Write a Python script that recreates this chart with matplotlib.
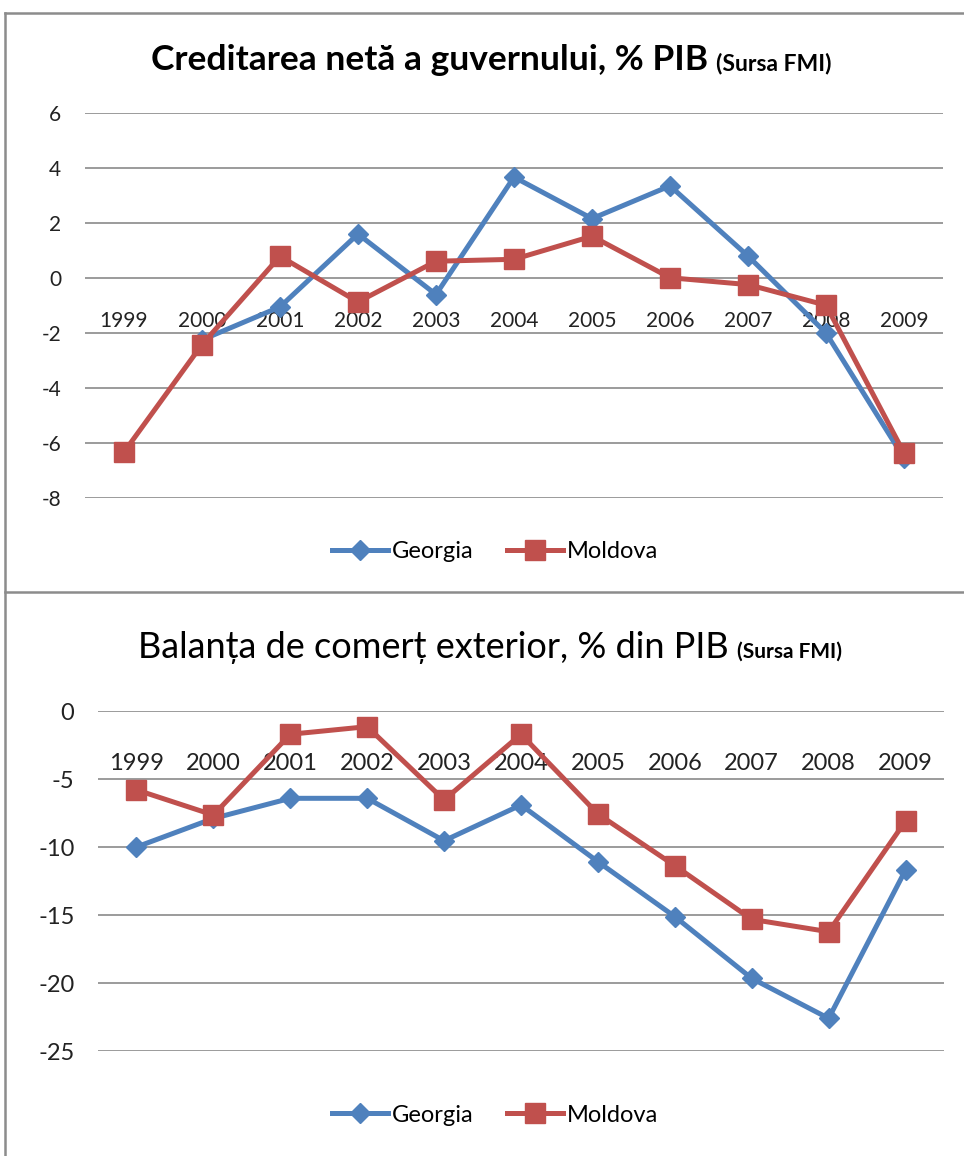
import matplotlib
matplotlib.use("Agg")
import matplotlib.pyplot as plt
from matplotlib.lines import Line2D

plt.rcParams['font.family'] = ['Lato', 'DejaVu Sans']

years = ['1999', '2000', '2001', '2002', '2003', '2004', '2005', '2006', '2007', '2008', '2009']

# Creditarea neta a guvernului, % PIB (Georgia has no 1999 value)
credit_georgia = [None, -2.25, -1.05, 1.6, -0.6, 3.67, 2.16, 3.35, 0.8, -2.0, -6.55]
credit_moldova = [-6.33, -2.42, 0.79, -0.87, 0.61, 0.68, 1.52, 0.01, -0.24, -0.99, -6.36]

# Balanta de comert exterior, % din PIB
trade_georgia = [-10.0, -7.9, -6.42, -6.42, -9.54, -6.91, -11.08, -15.12, -19.66, -22.6, -11.69]
trade_moldova = [-5.8, -7.65, -1.71, -1.15, -6.54, -1.71, -7.57, -11.37, -15.32, -16.23, -8.09]

BLUE = '#4F81BD'
RED = '#C0504D'
GRID = '#8a8a8a'
W, H = 964, 1156

fig = plt.figure(figsize=(W / 100, H / 100), dpi=100)


def fx(px):
    return px / W


def fy(py):
    return 1 - py / H


def draw_panel(rect, georgia, moldova, ylim, yticks, fs, pad):
    ax = fig.add_axes(rect)
    for s in ax.spines.values():
        s.set_visible(False)
    # category axis crosses at 0, like the original spreadsheet chart
    ax.spines['bottom'].set_position(('data', 0))
    xs = list(range(len(years)))
    g = [(x, v) for x, v in zip(xs, georgia) if v is not None]
    ax.plot([p[0] for p in g], [p[1] for p in g], color=BLUE, lw=3.6,
            marker='D', ms=10, label='Georgia', zorder=3)
    ax.plot(xs, moldova, color=RED, lw=3.6, marker='s', ms=14,
            label='Moldova', zorder=4)
    ax.set_xlim(-0.5, len(years) - 0.5)
    ax.set_ylim(*ylim)
    ax.set_yticks(yticks)
    ax.set_yticklabels([str(t) for t in yticks], fontsize=fs, color='#222222')
    ax.set_xticks(xs)
    ax.set_xticklabels(years, fontsize=fs, color='#222222')
    ax.grid(axis='y', color=GRID, lw=1.2)
    ax.set_axisbelow(True)
    ax.tick_params(axis='both', length=0)
    ax.tick_params(axis='x', pad=pad)
    ax.tick_params(axis='y', pad=17)
    return ax


ax1 = draw_panel([fx(85), fy(498), fx(858), fy(113) - fy(498)],
                 credit_georgia, credit_moldova, (-8, 6),
                 [6, 4, 2, 0, -2, -4, -6, -8], 15, 24)
ax2 = draw_panel([fx(98), fy(1051), fx(846), fy(711) - fy(1051)],
                 trade_georgia, trade_moldova, (-25, 0),
                 [0, -5, -10, -15, -20, -25], 17, 30)

for ax, ly in [(ax1, 552), (ax2, 1115)]:
    ax.legend(loc='center', bbox_to_anchor=(fx(495), fy(ly)),
              bbox_transform=fig.transFigure, ncol=2, frameon=False,
              fontsize=17, handlelength=2.4, columnspacing=1.4,
              handletextpad=0.15)


def two_part_title(main, small, cx, cy, fs_main, fs_small, weight_main):
    r = fig.canvas.get_renderer()
    t1 = fig.text(0, cy, main, fontsize=fs_main, fontweight=weight_main,
                  va='baseline')
    t2 = fig.text(0, cy, small, fontsize=fs_small, fontweight='bold',
                  va='baseline')
    w1 = t1.get_window_extent(r).width / W
    w2 = t2.get_window_extent(r).width / W
    gap = 8 / W
    x0 = cx - (w1 + gap + w2) / 2
    t1.set_x(x0)
    t2.set_x(x0 + w1 + gap)


two_part_title('Creditarea netă a guvernului, % PIB', '(Sursa FMI)',
               fx(491), fy(70), 25.5, 16.5, 'bold')
two_part_title('Balanța de comerț exterior, % din PIB', '(Sursa FMI)',
               fx(490), fy(658), 26, 15, 'normal')

# chart area borders
bc = '#8c8c8c'
fig.add_artist(Line2D([fx(5), 1], [fy(13), fy(13)], color=bc, lw=1.8))
fig.add_artist(Line2D([fx(5), fx(5)], [fy(13), 0], color=bc, lw=1.8))
fig.add_artist(Line2D([fx(5), 1], [fy(592), fy(592)], color=bc, lw=1.8))

fig.savefig('out.png', dpi=100, facecolor='white')
